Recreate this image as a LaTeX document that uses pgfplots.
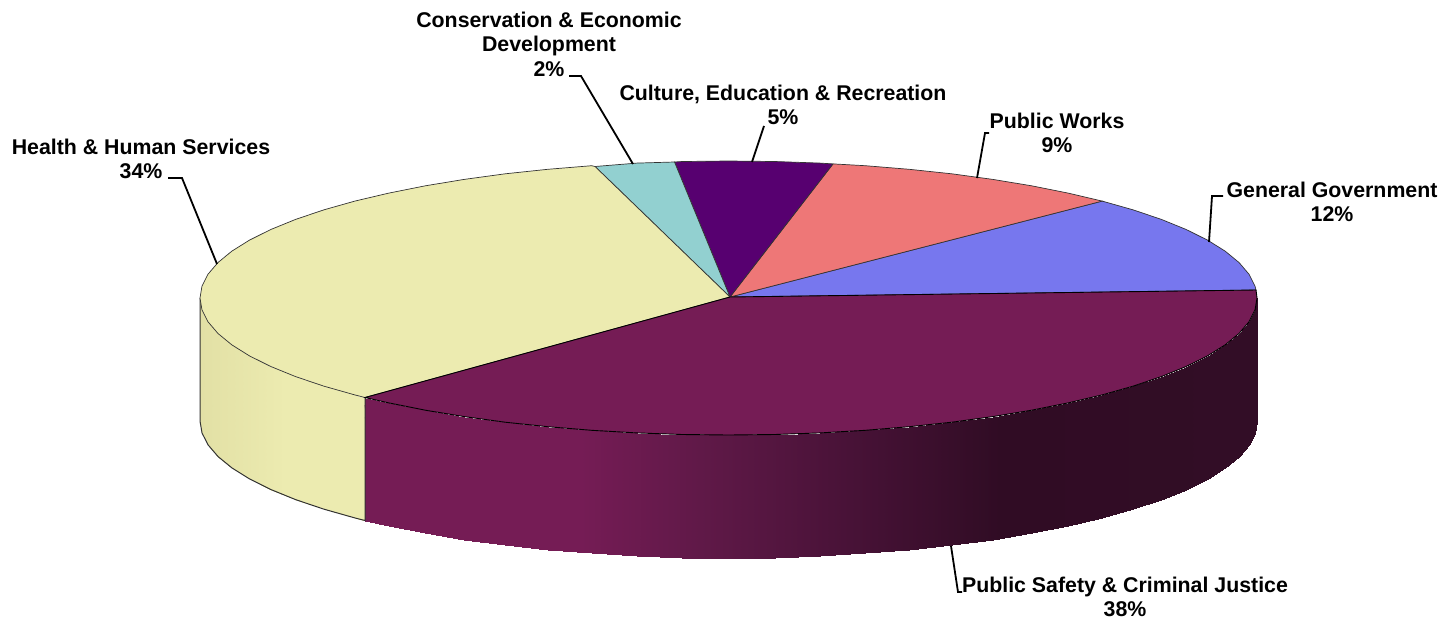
\documentclass[border=0pt]{standalone}
\usepackage{pgfplots}
\pgfplotsset{compat=1.18}
\usepackage{fontspec}
\setmainfont{Liberation Sans}
\definecolor{cgov}{HTML}{7777EE}
\definecolor{cwork}{HTML}{EE7777}
\definecolor{ccult}{HTML}{570070}
\definecolor{ccons}{HTML}{92D0D0}
\definecolor{chealth}{HTML}{ECEBB0}
\definecolor{csafe}{HTML}{751C55}
\definecolor{cedge}{HTML}{333333}
\tikzset{lbl/.style={font=\bfseries\fontsize{21.4}{24.5}\selectfont, align=center, inner sep=0pt, text=black}}
\pgfplotsset{lead/.style={draw=black, line width=1.8bp, no markers}}
\begin{document}
\begin{tikzpicture}
\begin{axis}[
  scale only axis, width=1450bp, height=621bp,
  xmin=0, xmax=1450, ymin=0, ymax=621, y dir=reverse,
  hide axis, clip=false,
  point meta min=200, point meta max=1257,
  colormap={sidewall}{
    rgb255(200)=(226,224,165) rgb255(285)=(236,235,176) rgb255(364)=(236,235,176)
    rgb255(365)=(117,28,85) rgb255(580)=(117,28,85) rgb255(700)=(96,25,72)
    rgb255(850)=(72,18,55) rgb255(1000)=(48,12,36) rgb255(1257)=(50,13,38)},
]
\path (axis cs:0,0) rectangle (axis cs:1450,621);
% side walls
\addplot[surf, shader=interp, mesh/rows=2, point meta=x] table {
x y
200 298
202 309.9
208 321.8
218 333.5
231.9 344.9
249.5 355.9
270.8 366.5
295.6 376.6
323.7 386.1
354.8 394.9
364.9 397.5
200 421
202 432.9
208 444.8
218 456.5
231.9 467.9
249.5 478.9
270.8 489.5
295.6 499.6
323.7 509.1
354.8 517.9
364.9 520.5
};
\addplot[surf, shader=interp, mesh/rows=2, point meta=x] table {
x y
365.1 397.5
388.8 402.9
425.4 410.2
464.2 416.6
505.2 422.2
547.8 426.7
591.7 430.3
636.8 432.9
682.4 434.5
728.5 435
774.6 434.5
820.2 432.9
865.3 430.3
909.2 426.7
951.8 422.2
992.8 416.6
1031.6 410.2
1068.2 402.9
1102.2 394.9
1133.3 386.1
1161.4 376.6
1186.2 366.5
1207.5 355.9
1225.1 344.9
1239 333.5
1249 321.8
1255 309.9
1257 298
365.1 520.5
388.8 525.9
425.4 533.2
464.2 539.6
505.2 545.2
547.8 549.7
591.7 553.3
636.8 555.9
682.4 557.5
728.5 558
774.6 557.5
820.2 555.9
865.3 553.3
909.2 549.7
951.8 545.2
992.8 539.6
1031.6 533.2
1068.2 525.9
1102.2 517.9
1133.3 509.1
1161.4 499.6
1186.2 489.5
1207.5 478.9
1225.1 467.9
1239 456.5
1249 444.8
1255 432.9
1257 421
};
% outline of the yellow wall
\addplot[draw=cedge, line width=1bp, no markers] coordinates {
(200,298)(200,421)(202,432.9)(208,444.8)(218,456.5)(231.9,467.9)(249.5,478.9)(270.8,489.5)(295.6,499.6)(323.7,509.1)(354.8,517.9)(365,520.5)(365,397.5)};
% top wedges
\addplot[fill=cgov, draw=cedge, line width=0.7bp, no markers] coordinates {
(730,297)(1256,290)(1255,286.1)(1249,274.2)(1239,262.5)(1225.1,251.1)(1207.5,240.1)(1186.2,229.5)(1161.4,219.4)(1133.3,209.9)(1102.2,201.1)(730,297)};
\addplot[fill=cwork, draw=cedge, line width=0.7bp, no markers] coordinates {
(730,297)(1102.2,201.1)(1068.2,193.1)(1031.6,185.8)(992.8,179.4)(951.8,173.8)(909.2,169.3)(865.3,165.7)(833,163.9)(730,297)};
\addplot[fill=ccult, draw=cedge, line width=0.7bp, no markers] coordinates {
(730,297)(833,163.9)(820.2,163.1)(774.6,161.5)(728.5,161)(682.4,161.5)(674.5,162)(730,297)};
\addplot[fill=ccons, draw=cedge, line width=0.7bp, no markers] coordinates {
(730,297)(674.5,162)(636.8,163.1)(595,166.5)(730,297)};
\addplot[fill=chealth, draw=cedge, line width=0.7bp, no markers] coordinates {
(730,297)(595,166.5)(591.7,165.7)(547.8,169.3)(505.2,173.8)(464.2,179.4)(425.4,185.8)(388.8,193.1)(354.8,201.1)(323.7,209.9)(295.6,219.4)(270.8,229.5)(249.5,240.1)(231.9,251.1)(218,262.5)(208,274.2)(202,286.1)(200,298)(202,309.9)(208,321.8)(218,333.5)(231.9,344.9)(249.5,355.9)(270.8,366.5)(295.6,376.6)(323.7,386.1)(354.8,394.9)(365,397.5)(730,297)};
\addplot[fill=csafe, draw=black, line width=0.9bp, no markers] coordinates {
(730,297)(365,397.5)(388.8,402.9)(425.4,410.2)(464.2,416.6)(505.2,422.2)(547.8,426.7)(591.7,430.3)(636.8,432.9)(682.4,434.5)(728.5,435)(774.6,434.5)(820.2,432.9)(865.3,430.3)(909.2,426.7)(951.8,422.2)(992.8,416.6)(1031.6,410.2)(1068.2,402.9)(1102.2,394.9)(1133.3,386.1)(1161.4,376.6)(1186.2,366.5)(1207.5,355.9)(1225.1,344.9)(1239,333.5)(1249,321.8)(1255,309.9)(1257,298)(1256,290)(730,297)};
% leader lines
\addplot[lead] coordinates {(569,76)(581,76)(633,164)};
\addplot[lead] coordinates {(764,126)(752,162)};
\addplot[lead] coordinates {(989,133)(985,133)(977,178)};
\addplot[lead] coordinates {(1223,196)(1212,196)(1209,242)};
\addplot[lead] coordinates {(168,178)(182,178)(217,264)};
\addplot[lead] coordinates {(951,546)(958,592)(962,592)};
% labels
\node[lbl] at (axis cs:549,44) {Conservation \& Economic\\Development\\2\%};
\node[lbl] at (axis cs:783,105) {Culture, Education \& Recreation\\5\%};
\node[lbl] at (axis cs:1057,133) {Public Works\\9\%};
\node[lbl] at (axis cs:1332,202) {General Government\\12\%};
\node[lbl] at (axis cs:141,159) {Health \& Human Services\\34\%};
\node[lbl] at (axis cs:1125,597) {Public Safety \& Criminal Justice\\38\%};
\end{axis}
\end{tikzpicture}
\end{document}
